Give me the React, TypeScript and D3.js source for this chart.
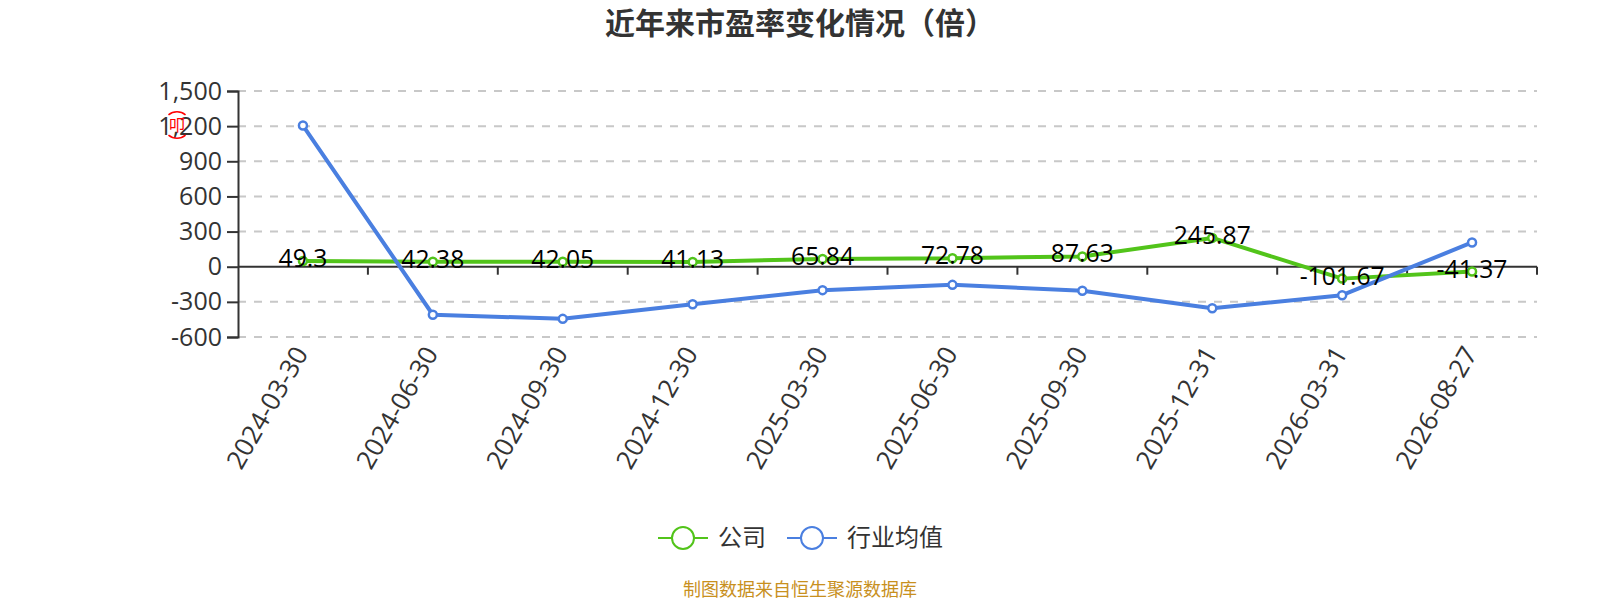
import React, { useEffect, useRef } from 'react'
import * as d3 from 'd3'

const dates = [
  '2024-03-30', '2024-06-30', '2024-09-30', '2024-12-30', '2025-03-30',
  '2025-06-30', '2025-09-30', '2025-12-31', '2026-03-31', '2026-08-27'
]
const company = [49.3, 42.38, 42.05, 41.13, 65.84, 72.78, 87.63, 245.87, -101.67, -41.37]
const industry = [1205, -410, -445, -320, -200, -155, -205, -355, -243, 207]
const yTicks = [1500, 1200, 900, 600, 300, 0, -300, -600]
const legendItems = ['公司', '行业均值']

const GREEN = '#52c41a'
const BLUE = '#4a7fe0'
const TEXT = '#333'
const FONT = '"Open Sans", "Noto Sans CJK SC", sans-serif'

const width = 1600
const height = 600
const margin = { top: 91, right: 63, bottom: 263, left: 238 }

export default function App() {
  const svgRef = useRef<SVGSVGElement>(null)

  useEffect(() => {
    if (!svgRef.current) return
    const svg = d3.select(svgRef.current)
    svg.selectAll('*').remove()

    const x = d3.scaleBand<string>()
      .domain(dates)
      .range([margin.left, width - margin.right])
    const y = d3.scaleLinear()
      .domain([-600, 1500])
      .range([height - margin.bottom, margin.top])

    // Title
    svg.append('text')
      .attr('x', 800)
      .attr('y', 34)
      .attr('text-anchor', 'middle')
      .attr('font-size', 30)
      .attr('font-weight', 700)
      .attr('fill', TEXT)
      .text('近年来市盈率变化情况（倍）')

    // Grid
    svg.append('g')
      .selectAll('line')
      .data(yTicks.filter(d => d !== 0))
      .enter()
      .append('line')
      .attr('x1', margin.left)
      .attr('x2', width - margin.right)
      .attr('y1', d => y(d))
      .attr('y2', d => y(d))
      .attr('stroke', '#c8c8c8')
      .attr('stroke-width', 2)
      .attr('stroke-dasharray', '8 8')

    // Y axis
    const yAxis = d3.axisLeft(y)
      .tickValues(yTicks)
      .tickSize(11)
      .tickPadding(5)
      .tickFormat(d => d3.format(',')(d as number).replace('−', '-'))
    const yG = svg.append('g')
      .attr('transform', `translate(${margin.left},0)`)
      .call(yAxis)
    yG.selectAll('line').attr('stroke', TEXT).attr('stroke-width', 2)
    yG.select('.domain').attr('stroke', TEXT).attr('stroke-width', 2)
    yG.selectAll('text')
      .attr('font-size', 25)
      .attr('font-family', FONT)
      .attr('fill', TEXT)

    // X axis on the zero line, ticks on band edges
    const zeroY = y(0)
    svg.append('line')
      .attr('x1', margin.left)
      .attr('x2', width - margin.right)
      .attr('y1', zeroY)
      .attr('y2', zeroY)
      .attr('stroke', TEXT)
      .attr('stroke-width', 2)
    svg.append('g')
      .selectAll('line')
      .data(dates)
      .enter()
      .append('line')
      .attr('x1', d => x(d)! + x.bandwidth())
      .attr('x2', d => x(d)! + x.bandwidth())
      .attr('y1', zeroY)
      .attr('y2', zeroY + 8)
      .attr('stroke', TEXT)
      .attr('stroke-width', 2)

    // Rotated date labels
    svg.append('g')
      .selectAll('text')
      .data(dates)
      .enter()
      .append('text')
      .attr('transform', d => `translate(${x(d)! + x.bandwidth() / 2},350) rotate(-60)`)
      .attr('text-anchor', 'end')
      .attr('dominant-baseline', 'middle')
      .attr('font-size', 26)
      .attr('fill', TEXT)
      .text(d => d)

    const cx = (i: number) => x(dates[i])! + x.bandwidth() / 2
    const line = d3.line<number>()
      .x((_, i) => cx(i))
      .y(d => y(d))

    const drawSeries = (values: number[], color: string) => {
      svg.append('path')
        .datum(values)
        .attr('fill', 'none')
        .attr('stroke', color)
        .attr('stroke-width', 4)
        .attr('stroke-linejoin', 'bevel')
        .attr('d', line)
      svg.append('g')
        .selectAll('circle')
        .data(values)
        .enter()
        .append('circle')
        .attr('cx', (_, i) => cx(i))
        .attr('cy', d => y(d))
        .attr('r', 4)
        .attr('fill', '#fff')
        .attr('stroke', color)
        .attr('stroke-width', 2.5)
    }
    drawSeries(company, GREEN)
    drawSeries(industry, BLUE)

    // Value labels for the company series
    svg.append('g')
      .selectAll('text')
      .data(company)
      .enter()
      .append('text')
      .attr('x', (_, i) => cx(i))
      .attr('y', d => y(d) + 6)
      .attr('text-anchor', 'middle')
      .attr('font-size', 24.7)
      .attr('fill', '#000')
      .text(d => String(d))

    // Legend
    const legendX = [658, 787]
    const legendColors = [GREEN, BLUE]
    const legend = svg.append('g')
      .selectAll('g')
      .data(legendItems)
      .enter()
      .append('g')
      .attr('transform', (_, i) => `translate(${legendX[i]},538)`)
    legend.append('line')
      .attr('x1', 0)
      .attr('x2', 50)
      .attr('stroke', (_, i) => legendColors[i])
      .attr('stroke-width', 2)
    legend.append('circle')
      .attr('cx', 25)
      .attr('r', 11)
      .attr('fill', '#fff')
      .attr('stroke', (_, i) => legendColors[i])
      .attr('stroke-width', 2)
    legend.append('text')
      .attr('x', 60)
      .attr('y', 8)
      .attr('font-size', 24)
      .attr('fill', TEXT)
      .text(d => d)

    // Source note
    svg.append('text')
      .attr('x', 800)
      .attr('y', 596)
      .attr('text-anchor', 'middle')
      .attr('font-size', 18)
      .attr('fill', '#c8901e')
      .text('制图数据来自恒生聚源数据库')

    // Red stamp beside the y axis
    const stamp = svg.append('g').attr('transform', 'translate(177,125)')
    const stampArc = d3.arc<number>()
      .innerRadius(12.5)
      .outerRadius(14)
      .startAngle(d => d - 0.7)
      .endAngle(d => d + 0.7)
    stamp.selectAll('path')
      .data([0, Math.PI])
      .enter()
      .append('path')
      .attr('d', d => stampArc(d))
      .attr('fill', '#f00')
    stamp.append('text')
      .attr('y', 6)
      .attr('text-anchor', 'middle')
      .attr('font-size', 16)
      .attr('fill', '#f00')
      .text('叩')
  }, [])

  return (
    <svg
      ref={svgRef}
      width={width}
      height={height}
      fontFamily={FONT}
      style={{ position: 'absolute', left: 0, top: 0 }}
    />
  )
}
